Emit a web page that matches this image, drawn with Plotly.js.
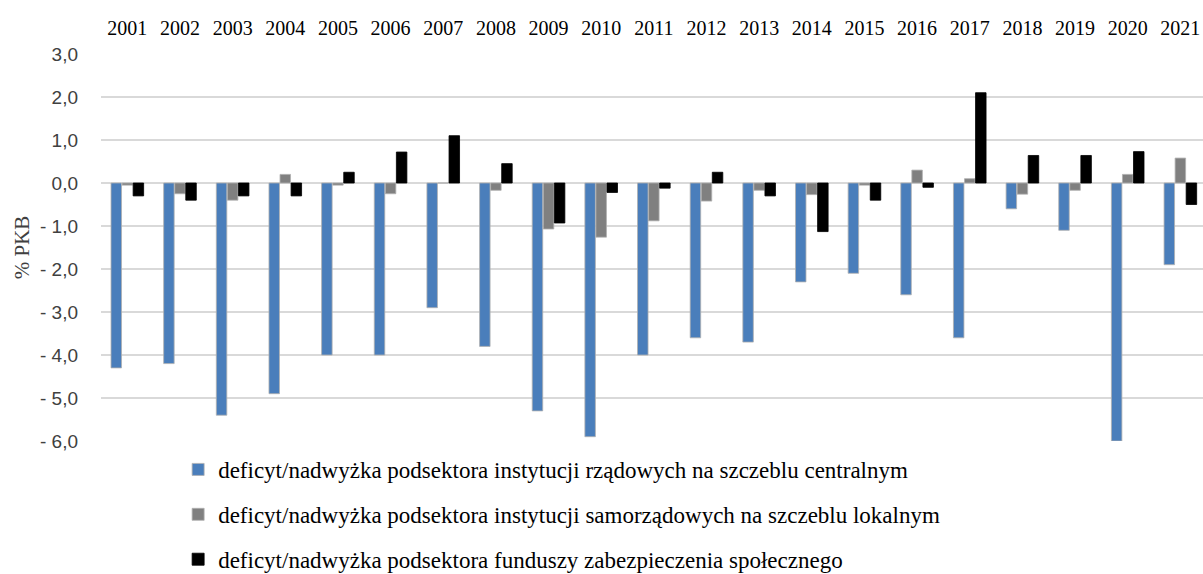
<!DOCTYPE html>
<html>
<head>
<meta charset="utf-8">
<script src="https://cdn.plot.ly/plotly-3.0.1.min.js"></script>
<style>html,body{margin:0;padding:0;background:#fff;overflow:hidden;}</style>
</head>
<body>
<div id="chart" style="width:1203px;height:590px;"></div>
<script>
const years = ['2001','2002','2003','2004','2005','2006','2007','2008','2009','2010','2011','2012','2013','2014','2015','2016','2017','2018','2019','2020','2021'];
const central = [-4.3,-4.2,-5.4,-4.9,-4.0,-4.0,-2.9,-3.8,-5.3,-5.9,-4.0,-3.6,-3.7,-2.3,-2.1,-2.6,-3.6,-0.6,-1.1,-6.0,-1.9];
const local = [-0.05,-0.25,-0.4,0.2,-0.05,-0.25,0.0,-0.17,-1.07,-1.26,-0.88,-0.42,-0.17,-0.27,-0.05,0.3,0.1,-0.26,-0.17,0.2,0.58];
const social = [-0.3,-0.4,-0.3,-0.3,0.25,0.72,1.1,0.45,-0.93,-0.22,-0.12,0.25,-0.3,-1.13,-0.4,-0.1,2.1,0.64,0.64,0.73,-0.5];
const seriesNames = [
  'deficyt/nadwyżka podsektora instytucji rządowych na szczeblu centralnym',
  'deficyt/nadwyżka podsektora instytucji samorządowych na szczeblu lokalnym',
  'deficyt/nadwyżka podsektora funduszy zabezpieczenia społecznego'
];
const yTickVals = [-6,-5,-4,-3,-2,-1,0,1,2,3];
const yTickText = ['- 6,0','- 5,0','- 4,0','- 3,0','- 2,0','- 1,0','0,0','1,0','2,0','3,0'];
const yTitle = '% PKB';

const colors = ['#4A7EBB','#808080','#000000'];
const series = [central, local, social];
const traces = series.map((vals, i) => ({
  type: 'bar',
  x: years,
  y: vals,
  name: seriesNames[i],
  legendgroup: 'g' + i,
  marker: {color: colors[i], line: {color: i === 2 ? '#000000' : '#b0b0b0', width: 0.8}},
  hoverinfo: 'x+y'
}));

const H = 590;
const plotTop = 54, plotBottom = 441;
const layout = {
  width: 1203,
  height: H,
  margin: {l: 101, r: 0, t: plotTop, b: H - plotBottom},
  paper_bgcolor: '#ffffff',
  plot_bgcolor: '#ffffff',
  barmode: 'group',
  bargap: 0.37,
  bargroupgap: 0.05,
  showlegend: true,
  legend: {
    orientation: 'v',
    x: 0.07, xanchor: 'left',
    y: -0.018, yanchor: 'top',
    font: {family: 'Liberation Serif, serif', size: 23, color: '#000'},
    tracegroupgap: 12,
    bgcolor: 'rgba(0,0,0,0)'
  },
  xaxis: {
    type: 'category',
    side: 'top',
    range: [-0.5, 20.43],
    showgrid: false,
    zeroline: false,
    showline: false,
    ticks: '',
    ticklabelstandoff: 14,
    tickfont: {family: 'Liberation Serif, serif', size: 20, color: '#000'},
    fixedrange: true
  },
  yaxis: {
    range: [-6, 3],
    tickvals: yTickVals,
    ticktext: yTickText,
    showgrid: true,
    gridcolor: '#d9d9d9',
    gridwidth: 1.5,
    zeroline: true,
    zerolinecolor: '#d9d9d9',
    zerolinewidth: 1.5,
    showline: false,
    ticks: '',
    ticklabelstandoff: 22,
    tickfont: {family: 'Liberation Sans, Arial, sans-serif', size: 19, color: '#404040'},
    title: {text: yTitle, font: {family: 'Liberation Serif, serif', size: 21, color: '#404040'}, standoff: 4},
    fixedrange: true
  }
};

Plotly.newPlot('chart', traces, layout, {displayModeBar: false, staticPlot: true});
</script>
</body>
</html>
